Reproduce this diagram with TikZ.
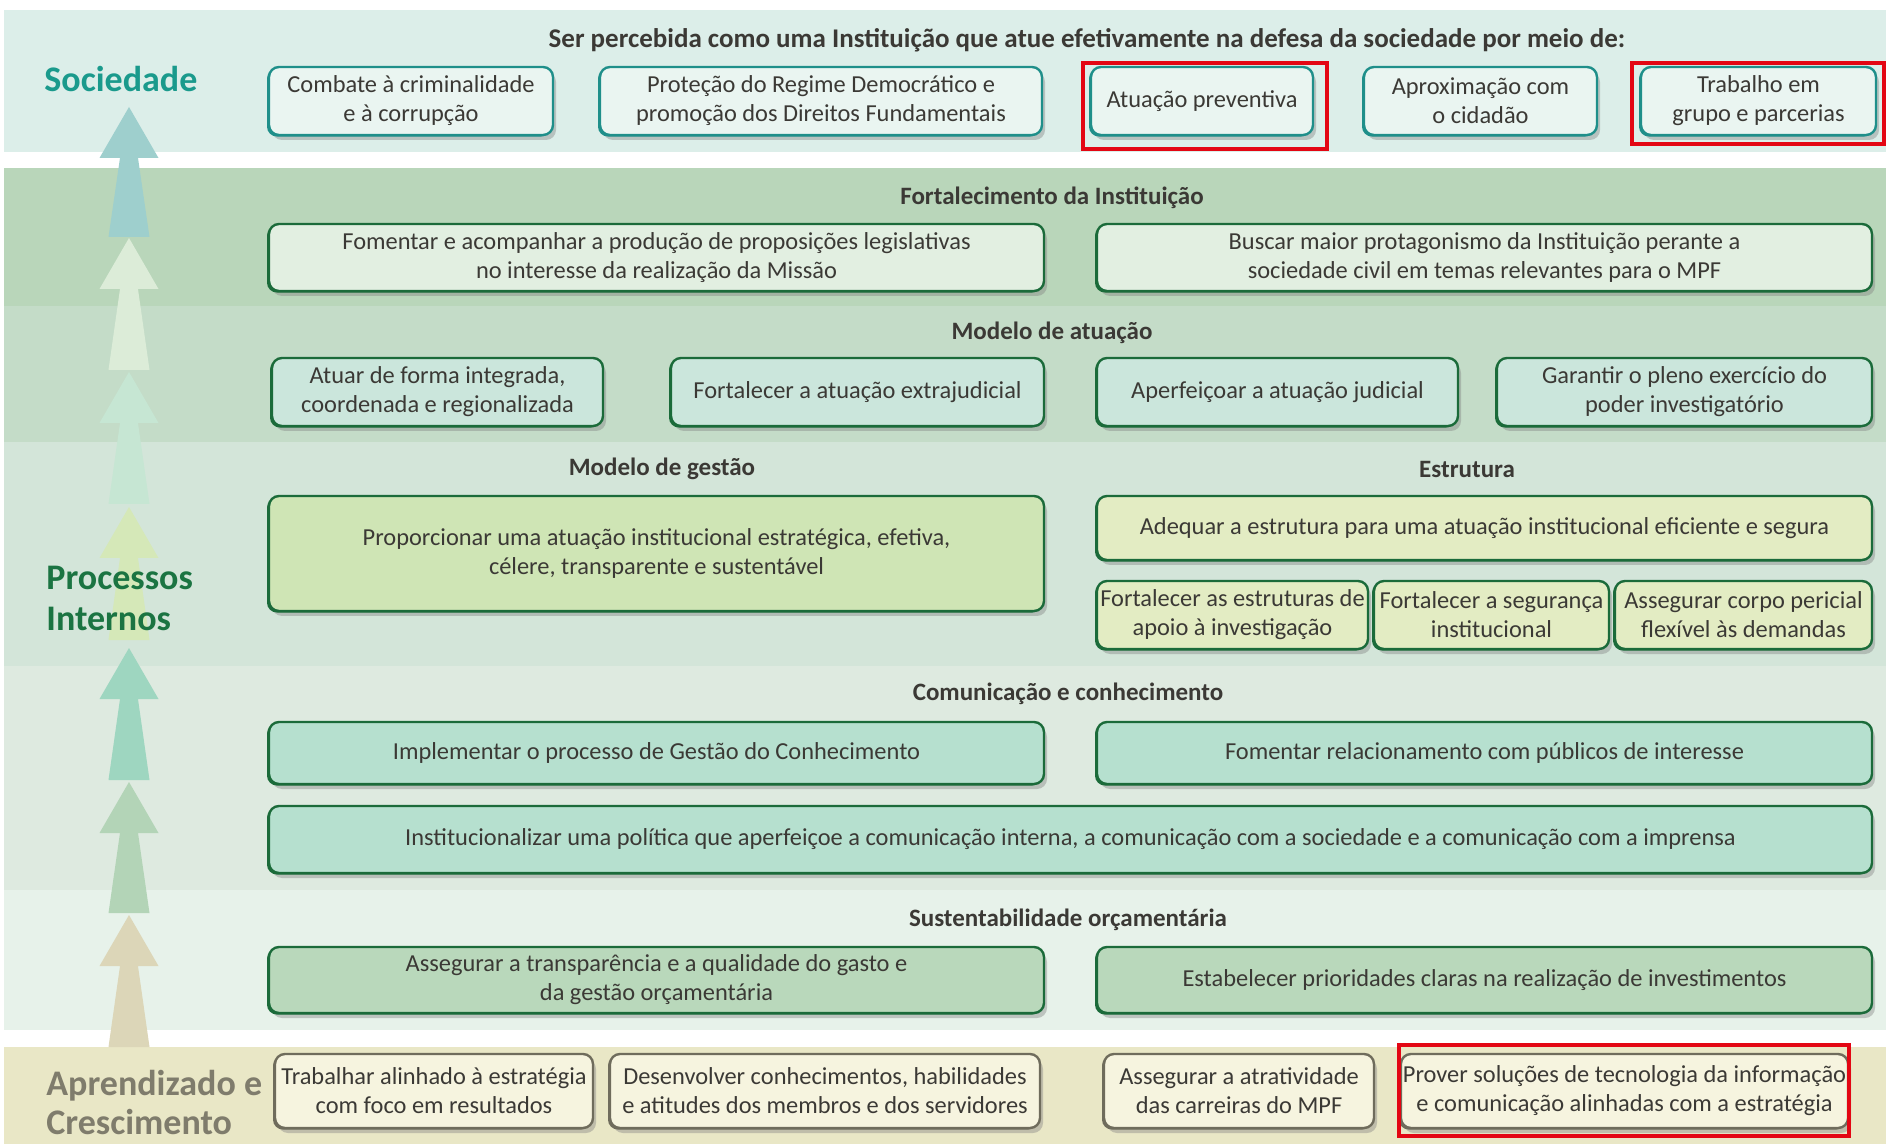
\documentclass[tikz,border=0pt]{standalone}
\usepackage{fontspec}
\setmainfont{Carlito}
\usetikzlibrary{shadows}
\definecolor{bandsoc}{HTML}{DCEEE9}
\definecolor{bandfor}{HTML}{B9D6BA}
\definecolor{bandmat}{HTML}{C4DCC8}
\definecolor{bandges}{HTML}{D3E5D9}
\definecolor{bandcom}{HTML}{DEEAE0}
\definecolor{bandsus}{HTML}{E7F2EA}
\definecolor{bandapr}{HTML}{E9E7C6}
\definecolor{socfill}{HTML}{EAF5F1}
\definecolor{socedge}{HTML}{1F8F8A}
\definecolor{forfill}{HTML}{E2EFE1}
\definecolor{gredge}{HTML}{1B6B3A}
\definecolor{matfill}{HTML}{CBE6DC}
\definecolor{gesfill}{HTML}{CFE5B5}
\definecolor{estfill}{HTML}{E3ECC3}
\definecolor{comfill}{HTML}{B6E0CF}
\definecolor{susfill}{HTML}{B9D8BB}
\definecolor{aprfill}{HTML}{F6F4DF}
\definecolor{apredge}{HTML}{6F6C5C}
\definecolor{txt}{HTML}{3B3935}
\definecolor{socteal}{HTML}{1A9A8C}
\definecolor{procgreen}{HTML}{1B7442}
\definecolor{aprgray}{HTML}{7F7C6C}
\definecolor{redbox}{HTML}{E30613}
\definecolor{ar1}{HTML}{9ECFCD}
\definecolor{ar2}{HTML}{DCECD8}
\definecolor{ar3}{HTML}{C6E6D3}
\definecolor{ar4}{HTML}{D5E8B8}
\definecolor{ar5}{HTML}{9ED6C0}
\definecolor{ar6}{HTML}{B3D4B7}
\definecolor{ar7}{HTML}{DCD6B8}
\newcommand\bx[7]{\node[#2, minimum width={(#5-#3)*0.5pt}, minimum height={(#6-#4)*0.5pt}] (#1) at ({(#3+#5)/2},{(#4+#6)/2}) {#7};}
\newcommand\upar[4]{\fill[#4] (129,#2) -- (158.5,#2+51) -- (138,#2+51) -- (149.5,#3) -- (108.5,#3) -- (120,#2+51) -- (99.5,#2+51) -- cycle;}
\begin{document}
\begin{tikzpicture}[x=0.5pt,y=-0.5pt,
  bxbase/.style={rounded corners=5pt, align=center, inner sep=1pt, text=txt,
    font=\fontsize{12.2}{14.5}\selectfont, line width=1.2pt,
    drop shadow={opacity=0.4, shadow xshift=1.5pt, shadow yshift=-2.5pt}},
  socbox/.style={bxbase, fill=socfill, draw=socedge, general shadow={fill=socedge, shadow xshift=-1pt, shadow yshift=-0.8pt}},
  forbox/.style={bxbase, fill=forfill, draw=gredge, general shadow={fill=gredge, shadow xshift=-1pt, shadow yshift=-0.8pt}},
  matbox/.style={forbox, fill=matfill},
  gesbox/.style={forbox, fill=gesfill},
  estbox/.style={forbox, fill=estfill},
  combox/.style={forbox, fill=comfill},
  susbox/.style={forbox, fill=susfill},
  aprbox/.style={bxbase, fill=aprfill, draw=apredge, general shadow={fill=apredge, shadow xshift=-1pt, shadow yshift=-0.8pt}},
  title/.style={font=\bfseries\fontsize{12.5}{15}\selectfont, text=txt},
  redmark/.style={draw=redbox, line width=2pt, inner sep=0pt},
]
\useasboundingbox (0,0) rectangle (1886,1144);
\fill[white] (0,0) rectangle (1886,1144);
% bands
\fill[bandsoc] (4,10) rectangle (1886,152);
\fill[bandfor] (4,168) rectangle (1886,306);
\fill[bandmat] (4,306) rectangle (1886,442);
\fill[bandges] (4,442) rectangle (1886,666);
\fill[bandcom] (4,666) rectangle (1886,890);
\fill[bandsus] (4,890) rectangle (1886,1030);
\fill[bandapr] (4,1047) rectangle (1886,1144);
% arrows
\upar{a1}{107}{237}{ar1}
\upar{a2}{238}{370}{ar2}
\upar{a3}{372}{504}{ar3}
\upar{a4}{507}{640}{ar4}
\upar{a5}{648}{780}{ar5}
\upar{a6}{782}{913}{ar6}
\upar{a7}{915}{1047}{ar7}
% side labels
\node[anchor=west, font=\bfseries\fontsize{18}{20}\selectfont, text=socteal, inner sep=0pt] (lsoc) at (44,79) {Sociedade};
\node[anchor=west, align=left, font=\bfseries\fontsize{18}{20.5}\selectfont, text=procgreen, inner sep=0pt] (lproc) at (46,598) {Processos\\Internos};
\node[anchor=west, align=left, font=\bfseries\fontsize{18}{19.5}\selectfont, text=aprgray, inner sep=0pt] (lapr) at (46,1102) {Aprendizado e\\Crescimento};
% titles
\node[title, font=\bfseries\fontsize{13.5}{16}\selectfont] (tsoc) at (1087,40) {Ser percebida como uma Instituição que atue efetivamente na defesa da sociedade por meio de:};
\node[title] (tfor) at (1052,198) {Fortalecimento da Instituição};
\node[title] (tmat) at (1052,333) {Modelo de atuação};
\node[title] (tges) at (662,469) {Modelo de gestão};
\node[title] (test) at (1467,469) {Estrutura};
\node[title] (tcom) at (1068,694) {Comunicação e conhecimento};
\node[title] (tsus) at (1068,920) {Sustentabilidade orçamentária};
% Sociedade
\bx{s1}{socbox}{269}{67}{553}{135}{Combate à criminalidade\\e à corrupção}
\bx{s2}{socbox}{600}{67}{1042}{135}{Proteção do Regime Democrático e\\promoção dos Direitos Fundamentais}
\bx{s3}{socbox}{1091}{67}{1313}{135}{Atuação preventiva}
\bx{s4}{socbox}{1364}{67}{1597}{135}{Aproximação com\\o cidadão}
\bx{s5}{socbox}{1641}{67}{1876}{135}{Trabalho em\\grupo e parcerias}
% Fortalecimento
\bx{f1}{forbox}{269}{224}{1044}{291}{Fomentar e acompanhar a produção de proposições legislativas\\no interesse da realização da Missão}
\bx{f2}{forbox}{1097}{224}{1872}{291}{Buscar maior protagonismo da Instituição perante a\\sociedade civil em temas relevantes para o MPF}
% Modelo de atuacao
\bx{m1}{matbox}{272}{358}{603}{426}{Atuar de forma integrada,\\coordenada e regionalizada}
\bx{m2}{matbox}{671}{358}{1044}{426}{Fortalecer a atuação extrajudicial}
\bx{m3}{matbox}{1097}{358}{1458}{426}{Aperfeiçoar a atuação judicial}
\bx{m4}{matbox}{1497}{358}{1872}{426}{Garantir o pleno exercício do\\poder investigatório}
% Gestao / Estrutura
\bx{g1}{gesbox}{269}{496}{1044}{611}{Proporcionar uma atuação institucional estratégica, efetiva,\\célere, transparente e sustentável}
\bx{e0}{estbox}{1097}{496}{1872}{560}{Adequar a estrutura para uma atuação institucional eficiente e segura}
\bx{e1}{estbox}{1097}{581}{1368}{649}{Fortalecer as estruturas de\\apoio à investigação}
\bx{e2}{estbox}{1374}{581}{1609}{649}{Fortalecer a segurança\\institucional}
\bx{e3}{estbox}{1615}{581}{1872}{649}{Assegurar corpo pericial\\flexível às demandas}
% Comunicacao
\bx{c1}{combox}{269}{722}{1044}{784}{Implementar o processo de Gestão do Conhecimento}
\bx{c2}{combox}{1097}{722}{1872}{784}{Fomentar relacionamento com públicos de interesse}
\bx{c3}{combox}{269}{806}{1872}{873}{Institucionalizar uma política que aperfeiçoe a comunicação interna, a comunicação com a sociedade e a comunicação com a imprensa}
% Sustentabilidade
\bx{u1}{susbox}{269}{947}{1044}{1013}{Assegurar a transparência e a qualidade do gasto e\\da gestão orçamentária}
\bx{u2}{susbox}{1097}{947}{1872}{1013}{Estabelecer prioridades claras na realização de investimentos}
% Aprendizado
\bx{p1}{aprbox}{275}{1054}{593}{1128}{Trabalhar alinhado à estratégia\\com foco em resultados}
\bx{p2}{aprbox}{610}{1054}{1040}{1128}{Desenvolver conhecimentos, habilidades\\e atitudes dos membros e dos servidores}
\bx{p3}{aprbox}{1104}{1054}{1374}{1128}{Assegurar a atratividade\\das carreiras do MPF}
\bx{p4}{aprbox}{1405}{1054}{1844}{1128}{Prover soluções de tecnologia da informação\\e comunicação alinhadas com a estratégia}
% red highlight frames
\bx{r1}{redmark}{1083}{63}{1327}{149}{}
\bx{r2}{redmark}{1632}{63}{1884}{144}{}
\bx{r3}{redmark}{1399}{1045}{1849}{1136}{}
\end{tikzpicture}
\end{document}
